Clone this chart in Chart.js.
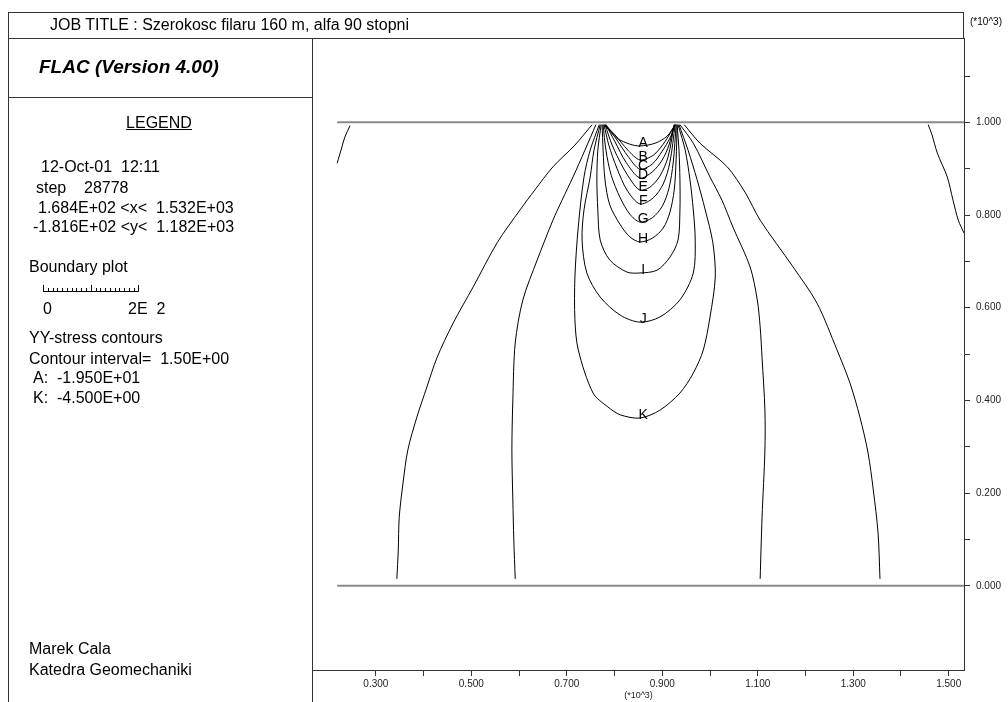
<!DOCTYPE html>
<html><head><meta charset="utf-8">
<script src="https://cdn.jsdelivr.net/npm/chart.js@4.4.1/dist/chart.umd.min.js"></script>
<style>
html,body{margin:0;padding:0;background:#fff;}
#wrap{position:relative;width:1008px;height:702px;overflow:hidden;font-family:"Liberation Sans",Arial,sans-serif;color:#000;}
#c{position:absolute;left:0;top:0;}
.t{position:absolute;white-space:pre;font-size:16px;line-height:20px;}
.ln{position:absolute;background:#333;}
</style></head><body>
<div id="wrap">
<canvas id="c" width="1008" height="702"></canvas>
<div class="ln" style="left:8px;top:12px;width:956px;height:1px"></div>
<div class="ln" style="left:8px;top:12px;width:1px;height:690px"></div>
<div class="ln" style="left:8px;top:38px;width:956px;height:1px"></div>
<div class="ln" style="left:312px;top:38px;width:1px;height:664px"></div>
<div class="ln" style="left:8px;top:97px;width:305px;height:1px"></div>
<div class="ln" style="left:963px;top:12px;width:1px;height:27px"></div>

<div class="t" style="left:50px;top:15px">JOB TITLE : Szerokosc filaru 160 m, alfa 90 stopni</div>
<div class="t" style="left:39px;top:55px;font-size:19px;line-height:24px;font-weight:bold;font-style:italic">FLAC (Version 4.00)</div>
<div class="t" style="left:100px;top:113px;width:118px;text-align:center;text-decoration:underline">LEGEND</div>
<div class="t" style="left:41px;top:157px">12-Oct-01  12:11</div>
<div class="t" style="left:36px;top:178px">step    28778</div>
<div class="t" style="left:38px;top:198px">1.684E+02 &lt;x&lt;  1.532E+03</div>
<div class="t" style="left:33px;top:217px">-1.816E+02 &lt;y&lt;  1.182E+03</div>
<div class="t" style="left:29px;top:257px">Boundary plot</div>
<div class="t" style="left:43px;top:299px">0</div>
<div class="t" style="left:128px;top:299px">2E  2</div>
<div class="t" style="left:29px;top:328px">YY-stress contours</div>
<div class="t" style="left:29px;top:349px">Contour interval=  1.50E+00</div>
<div class="t" style="left:33px;top:368px">A:  -1.950E+01</div>
<div class="t" style="left:33px;top:388px">K:  -4.500E+00</div>
<div class="t" style="left:29px;top:639px">Marek Cala</div>
<div class="t" style="left:29px;top:660px">Katedra Geomechaniki</div>
<div class="t" style="left:966px;top:16px;font-size:10px;line-height:12px;width:40px;text-align:center">(*10^3)</div>
</div>
<script>
// ---- axis windows (metres) ----
const xMin = 168.4, xMax = 1532;
const yMin = -181.6, yMax = 1182;

// ---- tick values and labels ----
const xTickValues = [300,400,500,600,700,800,900,1000,1100,1200,1300,1400,1500];
const xTickLabels = ['0.300','','0.500','','0.700','','0.900','','1.100','','1.300','','1.500'];
const yTickValues = [0,100,200,300,400,500,600,700,800,900,1000,1100];
const yTickLabels = ['0.000','','0.200','','0.400','','0.600','','0.800','','1.000',''];

// ---- boundary lines ----
const boundaryTop = [[219,1000],[1532,1000]];
const boundaryBottom = [[219,0],[1532,0]];

// ---- YY-stress contours [x, y] ----
const contourA = [[778,995],[805,966],[832,953],[853,949],[885,955],[910,970],[927,995]];
const contourB = [[780,995],[801,973],[828,940],[853,919],[881,929],[902,953],[918,979],[927,995]];
const contourC = [[782,995],[805,962],[828,927],[853,899],[879,910],[900,938],[916,966],[927,995]];
const contourD = [[782,995],[801,958],[824,914],[853,880],[879,893],[900,919],[914,951],[925,995]];
const contourE = [[780,995],[795,951],[816,906],[837,871],[853,854],[874,860],[895,884],[912,925],[925,995]];
const contourF = [[778,995],[788,951],[805,901],[826,854],[853,824],[881,837],[902,867],[916,914],[927,995]];
const contourG = [[776,995],[782,940],[793,886],[812,837],[832,802],[853,785],[879,794],[900,819],[914,858],[923,914],[929,995]];
const contourH = [[774,995],[776,940],[780,876],[790,822],[812,779],[832,753],[853,742],[879,750],[902,772],[916,806],[925,854],[929,919],[931,995]];
const contourI = [[772,995],[765,940],[763,876],[765,811],[770,746],[790,703],[826,677],[853,675],[889,681],[916,709],[933,746],[937,811],[937,876],[935,940],[931,995]];
const contourJ = [[770,995],[757,940],[749,882],[736,811],[732,746],[742,675],[770,623],[812,584],[853,569],[895,580],[937,617],[965,675],[969,746],[965,811],[958,876],[948,940],[933,995]];
const contourK = [[768,995],[749,940],[736,882],[724,774],[717,666],[717,574],[724,509],[755,416],[786,386],[812,369],[853,362],[895,379],[937,416],[965,459],[986,509],[1000,580],[1011,666],[1006,740],[990,811],[973,876],[954,940],[935,995]];
const outerLeft1 = [[753,995],[717,951],[671,904],[633,854],[602,811],[554,740],[504,645],[462,567],[428,492],[407,429],[386,364],[367,293],[357,222],[349,148],[347,77],[344,15]];
const outerLeft2 = [[761,995],[738,940],[713,882],[690,832],[671,789],[638,703],[608,617],[592,524],[587,401],[585,293],[587,185],[589,99],[592,15]];
const outerRight2 = [[937,995],[965,955],[1000,882],[1025,832],[1048,774],[1084,688],[1099,617],[1105,559],[1109,492],[1115,379],[1115,293],[1109,148],[1105,15]];
const outerRight1 = [[946,995],[979,955],[1036,904],[1074,848],[1105,789],[1174,688],[1224,610],[1266,509],[1293,438],[1314,364],[1331,287],[1342,207],[1352,114],[1356,15]];
const edgeLeft = [[246,993],[235,968],[229,947],[219,912]];
const edgeRight = [[1457,995],[1465,973],[1476,934],[1497,882],[1509,832],[1520,789],[1532,761]];

// ---- contour letters ----
const contourLabels = ['A','B','C','D','E','F','G','H','I','J','K'];
const labelX = [860,860,860,860,860,860,860,860,860,860,860];
const labelY = [949,919,899,880,854,824,785,742,675,569,362];

// ---- boundary plot scale bar ----
const scaleBarLength = 200;
const scaleBarDivisions = 20;

const contours = [contourA,contourB,contourC,contourD,contourE,contourF,contourG,contourH,contourI,contourJ,contourK,
  outerLeft1,outerLeft2,outerRight1,outerRight2,edgeLeft,edgeRight];

const toPts = arr => arr.map(p => ({x:p[0], y:p[1]}));
const datasets = [
  {data: toPts(boundaryTop), borderColor:'#8a8a8a', borderWidth:2, tension:0},
  {data: toPts(boundaryBottom), borderColor:'#8a8a8a', borderWidth:2, tension:0}
];
contours.forEach(c => datasets.push({data: toPts(c), borderColor:'#000', borderWidth:1, tension:0.3}));
datasets.forEach(d => { d.showLine = true; d.pointRadius = 0; d.fill = false; });

const overlay = {
  id:'overlay',
  afterDatasetsDraw(chart){
    const {ctx, scales:{x, y}} = chart;
    ctx.save();
    ctx.fillStyle = '#000';
    ctx.font = '14px "Liberation Sans", Arial, sans-serif';
    ctx.textAlign = 'center';
    ctx.textBaseline = 'alphabetic';
    contourLabels.forEach((s, i) => {
      ctx.fillText(s, x.getPixelForValue(labelX[i]), y.getPixelForValue(labelY[i]) + 1);
    });
    const len = x.getPixelForValue(xMin + scaleBarLength) - x.getPixelForValue(xMin);
    const x0 = 43, yb = 291;
    ctx.strokeStyle = '#000';
    ctx.lineWidth = 1;
    ctx.beginPath();
    ctx.moveTo(x0, yb + 0.5); ctx.lineTo(x0 + len, yb + 0.5);
    for (let k = 0; k <= scaleBarDivisions; k++) {
      const px = Math.round(x0 + len * k / scaleBarDivisions) + 0.5;
      const h = (k % 10 === 0) ? 6 : 3;
      ctx.moveTo(px, yb + 0.5); ctx.lineTo(px, yb - h);
    }
    ctx.stroke();
    ctx.restore();
  }
};

new Chart(document.getElementById('c'), {
  type: 'scatter',
  data: {datasets},
  plugins: [overlay],
  options: {
    responsive: false,
    animation: false,
    devicePixelRatio: 1,
    layout: {padding: {left: 313, top: 38, right: 0, bottom: 0}},
    plugins: {legend: {display: false}, tooltip: {enabled: false}},
    scales: {
      x: {
        type: 'linear', position: 'bottom', min: xMin, max: xMax,
        afterBuildTicks: s => { s.ticks = xTickValues.map(v => ({value: v})); },
        afterFit: s => { s.height = 32; },
        ticks: {autoSkip: false, maxRotation: 0, padding: 2, color: '#222',
          font: {size: 10, family: '"Liberation Sans", Arial, sans-serif'},
          callback: (v, i) => xTickLabels[i]},
        grid: {drawOnChartArea: false, drawTicks: true, tickLength: 6, color: '#333', lineWidth: 1},
        border: {color: '#333', width: 1},
        title: {display: true, text: '(*10^3)', color: '#222', padding: {top: 0, bottom: 1},
          font: {size: 9, family: '"Liberation Sans", Arial, sans-serif'}}
      },
      y: {
        type: 'linear', position: 'right', min: yMin, max: yMax,
        afterBuildTicks: s => { s.ticks = yTickValues.map(v => ({value: v})); },
        afterFit: s => { s.width = 44; },
        ticks: {autoSkip: false, padding: 6, color: '#222',
          font: {size: 10, family: '"Liberation Sans", Arial, sans-serif'},
          callback: (v, i) => yTickLabels[i]},
        grid: {drawOnChartArea: false, drawTicks: true, tickLength: 6, color: '#333', lineWidth: 1},
        border: {color: '#333', width: 1}
      }
    }
  }
});
</script>
</body></html>
